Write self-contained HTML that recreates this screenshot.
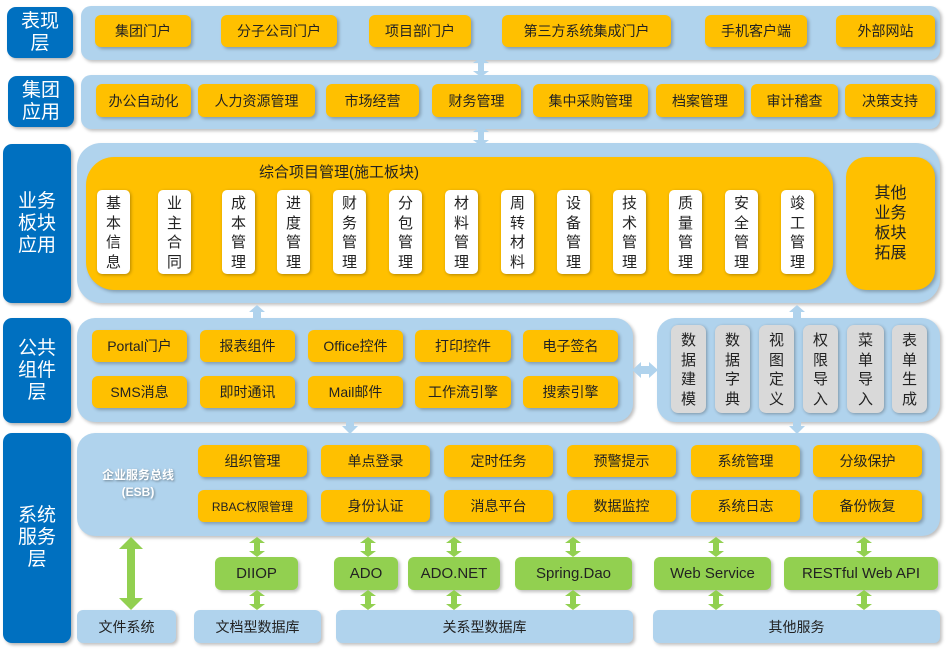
<!DOCTYPE html>
<html><head><meta charset="utf-8"><style>
*{margin:0;padding:0;box-sizing:border-box}
body{width:947px;height:653px;background:#fff;position:relative;overflow:hidden;font-family:"Liberation Sans","Noto Sans CJK SC",sans-serif}
.a{position:absolute}
.lab{position:absolute;background:#0070c0;color:#fff;border-radius:9px;font-size:19px;line-height:22px;display:flex;align-items:center;justify-content:center;text-align:center;box-shadow:2px 2px 3px rgba(0,0,0,.3)}
.pan{position:absolute;background:#b0d3ed;border-radius:10px;box-shadow:2px 2px 3px rgba(0,0,0,.25)}
.y{position:absolute;background:#ffc000;border-radius:6px;font-size:14px;color:#222;display:flex;align-items:center;justify-content:center;box-shadow:2px 2px 3px rgba(0,0,0,.25);white-space:nowrap}
.v{position:absolute;background:#fff;border-radius:5px;font-size:15px;line-height:19.5px;color:#222;text-align:center;padding-top:4px;width:33px;height:84px;top:190px;box-shadow:1px 1px 3px rgba(0,0,0,.3)}
.g{position:absolute;background:#d9d9d9;border-radius:7px;font-size:15px;line-height:19.5px;color:#222;text-align:center;padding-top:6px;top:325px;height:88px;box-shadow:1px 1px 3px rgba(0,0,0,.3)}
.gr{position:absolute;background:#92d050;border-radius:6px;font-size:15px;color:#222;display:flex;align-items:center;justify-content:center;top:557px;height:33px;box-shadow:2px 2px 3px rgba(0,0,0,.25);white-space:nowrap}
.b{position:absolute;background:#b0d3ed;border-radius:6px;font-size:14px;color:#222;display:flex;align-items:center;justify-content:center;top:610px;height:33px;box-shadow:2px 2px 3px rgba(0,0,0,.25)}
</style></head><body>
<div class="lab" style="left:7px;top:7px;width:66px;height:51px">表现<br>层</div>
<div class="lab" style="left:8px;top:76px;width:66px;height:51px">集团<br>应用</div>
<div class="lab" style="left:3px;top:144px;width:68px;height:159px">业务<br>板块<br>应用</div>
<div class="lab" style="left:3px;top:318px;width:68px;height:105px">公共<br>组件<br>层</div>
<div class="lab" style="left:3px;top:433px;width:68px;height:210px">系统<br>服务<br>层</div>

<div class="pan" style="left:81px;top:6px;width:859px;height:54px"></div>
<div class="pan" style="left:81px;top:75px;width:859px;height:54px"></div>
<div class="pan" style="left:77px;top:143px;width:863px;height:160px;border-radius:24px"></div>
<div class="pan" style="left:77px;top:318px;width:556px;height:104px;border-radius:18px"></div>
<div class="pan" style="left:657px;top:318px;width:283px;height:104px;border-radius:18px"></div>
<div class="pan" style="left:77px;top:433px;width:863px;height:103px;border-radius:18px"></div>

<div class="y" style="left:95px;top:15px;width:96px;height:32px">集团门户</div>
<div class="y" style="left:221px;top:15px;width:116px;height:32px">分子公司门户</div>
<div class="y" style="left:369px;top:15px;width:102px;height:32px">项目部门户</div>
<div class="y" style="left:502px;top:15px;width:169px;height:32px">第三方系统集成门户</div>
<div class="y" style="left:705px;top:15px;width:102px;height:32px">手机客户端</div>
<div class="y" style="left:836px;top:15px;width:99px;height:32px">外部网站</div>

<div class="y" style="left:96px;top:84px;width:95px;height:33px">办公自动化</div>
<div class="y" style="left:198px;top:84px;width:117px;height:33px">人力资源管理</div>
<div class="y" style="left:326px;top:84px;width:93px;height:33px">市场经营</div>
<div class="y" style="left:432px;top:84px;width:89px;height:33px">财务管理</div>
<div class="y" style="left:533px;top:84px;width:115px;height:33px">集中采购管理</div>
<div class="y" style="left:656px;top:84px;width:88px;height:33px">档案管理</div>
<div class="y" style="left:751px;top:84px;width:87px;height:33px">审计稽查</div>
<div class="y" style="left:845px;top:84px;width:90px;height:33px">决策支持</div>

<div class="y" style="left:86px;top:157px;width:747px;height:133px;border-radius:28px"></div>
<div class="a" style="left:259px;top:161px;font-size:15px;color:#222">综合项目管理(施工板块)</div>
<div class="v" style="left:97px">基<br>本<br>信<br>息</div>
<div class="v" style="left:158px">业<br>主<br>合<br>同</div>
<div class="v" style="left:222px">成<br>本<br>管<br>理</div>
<div class="v" style="left:277px">进<br>度<br>管<br>理</div>
<div class="v" style="left:333px">财<br>务<br>管<br>理</div>
<div class="v" style="left:389px">分<br>包<br>管<br>理</div>
<div class="v" style="left:445px">材<br>料<br>管<br>理</div>
<div class="v" style="left:501px">周<br>转<br>材<br>料</div>
<div class="v" style="left:557px">设<br>备<br>管<br>理</div>
<div class="v" style="left:613px">技<br>术<br>管<br>理</div>
<div class="v" style="left:669px">质<br>量<br>管<br>理</div>
<div class="v" style="left:725px">安<br>全<br>管<br>理</div>
<div class="v" style="left:781px">竣<br>工<br>管<br>理</div>
<div class="y" style="left:846px;top:157px;width:89px;height:133px;border-radius:20px;font-size:16px;line-height:20px;text-align:center;white-space:normal">其他<br>业务<br>板块<br>拓展</div>

<div class="y" style="left:92px;top:330px;width:95px;height:32px">Portal门户</div>
<div class="y" style="left:200px;top:330px;width:95px;height:32px">报表组件</div>
<div class="y" style="left:308px;top:330px;width:95px;height:32px">Office控件</div>
<div class="y" style="left:415px;top:330px;width:96px;height:32px">打印控件</div>
<div class="y" style="left:523px;top:330px;width:95px;height:32px">电子签名</div>
<div class="y" style="left:92px;top:376px;width:95px;height:32px">SMS消息</div>
<div class="y" style="left:200px;top:376px;width:95px;height:32px">即时通讯</div>
<div class="y" style="left:308px;top:376px;width:95px;height:32px">Mail邮件</div>
<div class="y" style="left:415px;top:376px;width:96px;height:32px">工作流引擎</div>
<div class="y" style="left:523px;top:376px;width:95px;height:32px">搜索引擎</div>

<div class="g" style="left:671px;width:35px">数<br>据<br>建<br>模</div>
<div class="g" style="left:715px;width:35px">数<br>据<br>字<br>典</div>
<div class="g" style="left:759px;width:35px">视<br>图<br>定<br>义</div>
<div class="g" style="left:803px;width:35px">权<br>限<br>导<br>入</div>
<div class="g" style="left:847px;width:37px">菜<br>单<br>导<br>入</div>
<div class="g" style="left:892px;width:35px">表<br>单<br>生<br>成</div>

<div class="a" style="left:90px;top:467px;width:96px;text-align:center;color:#fff;font-size:12px;font-weight:bold;line-height:17px;text-shadow:1px 1px 2px rgba(0,0,0,.4)">企业服务总线<br>(ESB)</div>
<div class="y" style="left:198px;top:445px;width:109px;height:32px">组织管理</div>
<div class="y" style="left:321px;top:445px;width:109px;height:32px">单点登录</div>
<div class="y" style="left:444px;top:445px;width:109px;height:32px">定时任务</div>
<div class="y" style="left:567px;top:445px;width:109px;height:32px">预警提示</div>
<div class="y" style="left:691px;top:445px;width:109px;height:32px">系统管理</div>
<div class="y" style="left:813px;top:445px;width:109px;height:32px">分级保护</div>
<div class="y" style="left:198px;top:490px;width:109px;height:32px;font-size:12px">RBAC权限管理</div>
<div class="y" style="left:321px;top:490px;width:109px;height:32px">身份认证</div>
<div class="y" style="left:444px;top:490px;width:109px;height:32px">消息平台</div>
<div class="y" style="left:567px;top:490px;width:109px;height:32px">数据监控</div>
<div class="y" style="left:691px;top:490px;width:109px;height:32px">系统日志</div>
<div class="y" style="left:813px;top:490px;width:109px;height:32px">备份恢复</div>

<div class="gr" style="left:215px;width:83px">DIIOP</div>
<div class="gr" style="left:334px;width:64px">ADO</div>
<div class="gr" style="left:408px;width:92px">ADO.NET</div>
<div class="gr" style="left:515px;width:117px">Spring.Dao</div>
<div class="gr" style="left:654px;width:117px">Web Service</div>
<div class="gr" style="left:784px;width:154px">RESTful Web API</div>

<div class="b" style="left:77px;width:99px">文件系统</div>
<div class="b" style="left:194px;width:127px">文档型数据库</div>
<div class="b" style="left:336px;width:297px">关系型数据库</div>
<div class="b" style="left:653px;width:287px">其他服务</div>

<svg class="a" style="left:0;top:0" width="947" height="653">
<defs>
<g id="sd"><polygon points="0,-10 8,-4 3,-4 3,4 8,4 0,10 -8,4 -3,4 -3,-4 -8,-4" /></g>
</defs>
<g fill="#b0d3ed">
<use href="#sd" x="481" y="67"/>
<use href="#sd" x="481" y="136"/>
<polygon points="257,305 265,312 261,312 261,319 253,319 253,312 249,312"/>
<polygon points="797,305 805,312 801,312 801,319 793,319 793,312 789,312"/>
<polygon points="350,434 358,426 354,426 354,421 346,421 346,426 342,426"/>
<polygon points="797,434 805,426 801,426 801,421 793,421 793,426 789,426"/>
<polygon points="632,370 641,362 641,366 649,366 649,362 658,370 649,378 649,374 641,374 641,378"/>
</g>
<g fill="#92d050">
<polygon points="131,537 143,549 135,549 135,598 143,598 131,610 119,598 127,598 127,549 119,549"/>
<use href="#sd" x="257" y="547"/><use href="#sd" x="257" y="600"/>
<use href="#sd" x="368" y="547"/><use href="#sd" x="368" y="600"/>
<use href="#sd" x="454" y="547"/><use href="#sd" x="454" y="600"/>
<use href="#sd" x="573" y="547"/><use href="#sd" x="573" y="600"/>
<use href="#sd" x="716" y="547"/><use href="#sd" x="716" y="600"/>
<use href="#sd" x="864" y="547"/><use href="#sd" x="864" y="600"/>
</g>
</svg>
</body></html>
